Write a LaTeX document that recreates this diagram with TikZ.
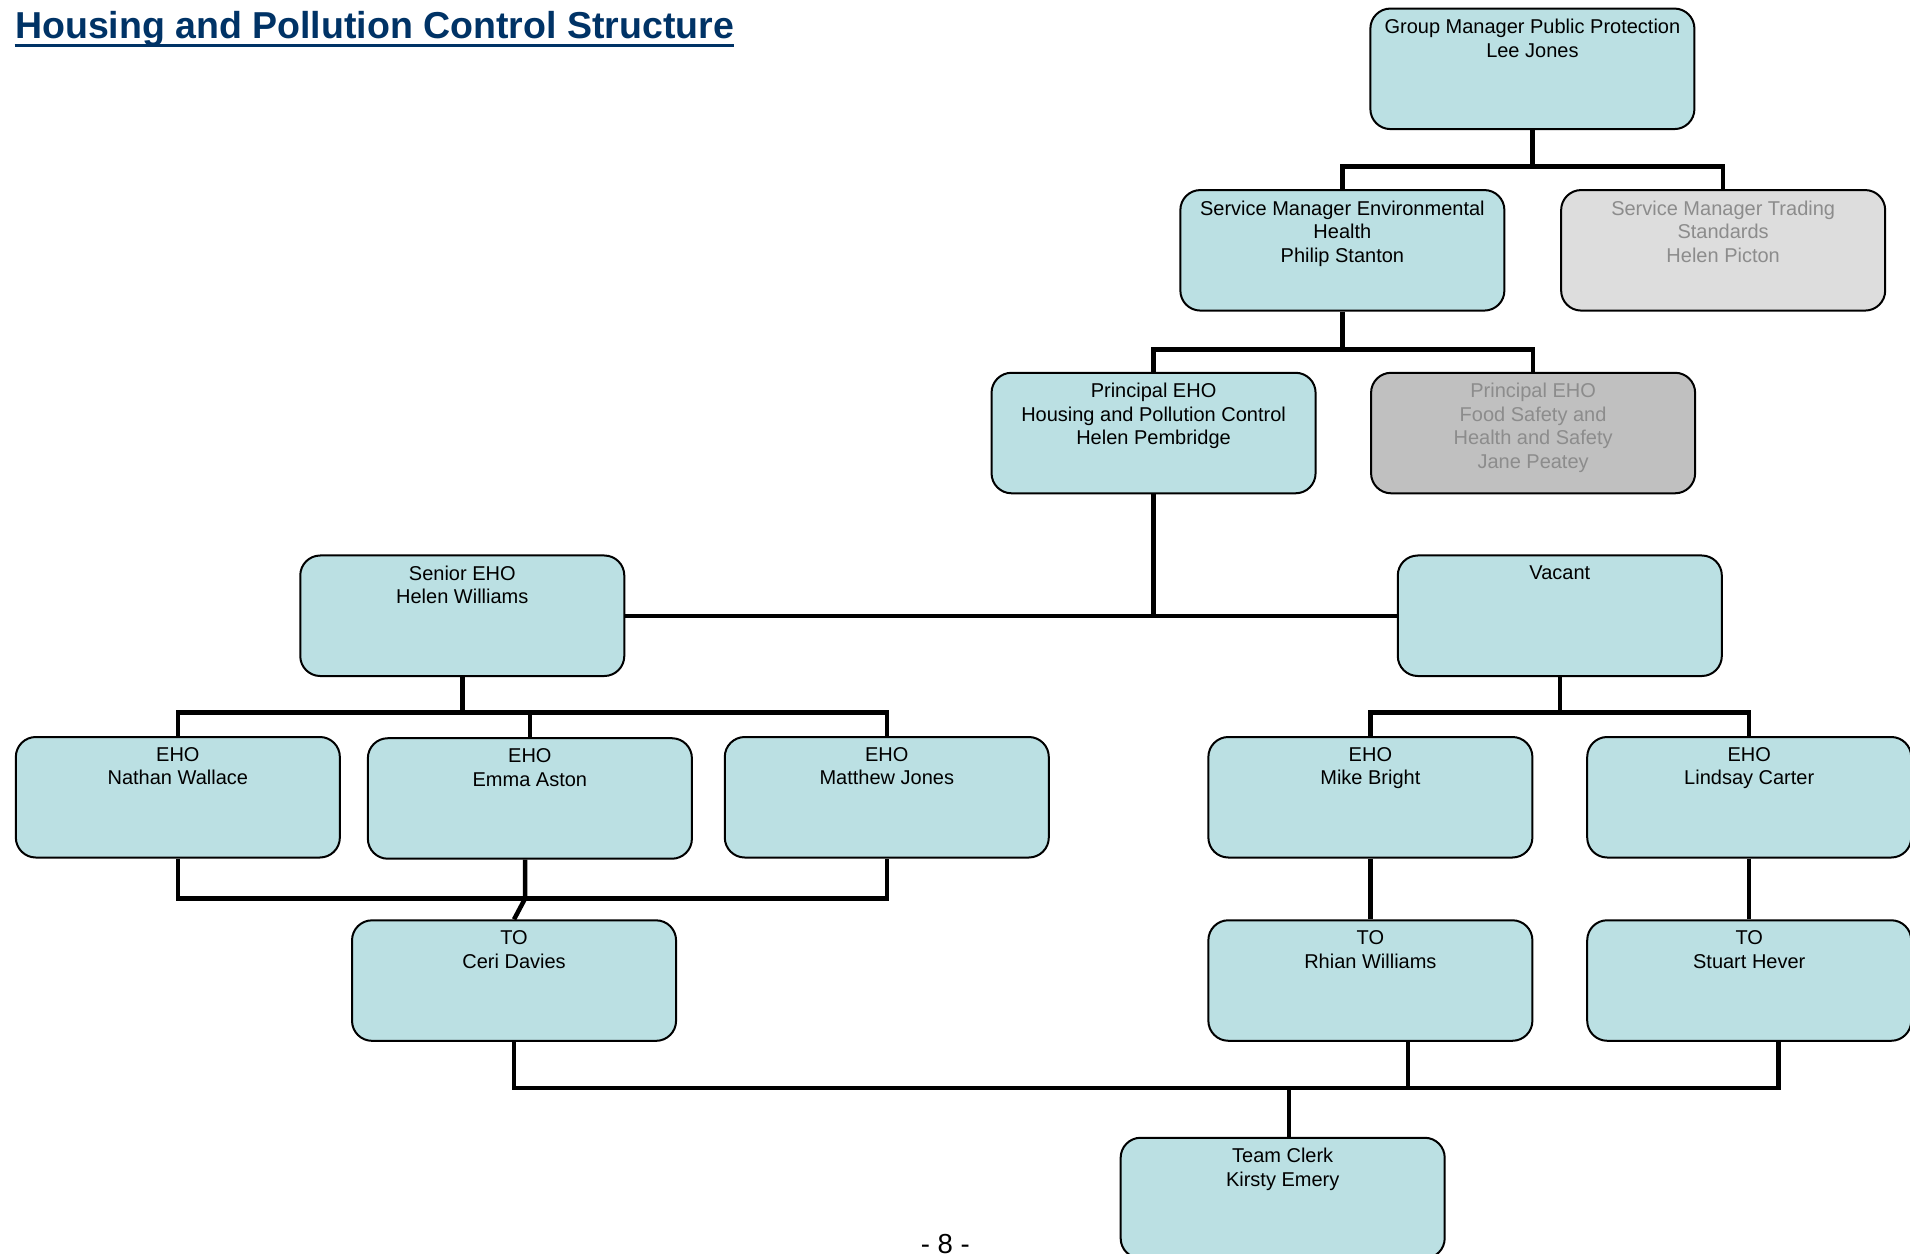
\documentclass[tikz,border=0pt]{standalone}
\usepackage{fontspec}
\setmainfont{Liberation Sans}
\usepackage{tikz}
\usetikzlibrary{calc,positioning}
\definecolor{postfill}{HTML}{BBE0E3}
\definecolor{greylight}{HTML}{DDDDDD}
\definecolor{greydark}{HTML}{C0C0C0}
\definecolor{greytext}{HTML}{8C8C8C}
\definecolor{titleblue}{HTML}{003366}
\tikzset{%
        line join = miter,
        node distance = 22pt
}
\tikzstyle{post}=[
    draw = black,
    fill = postfill,
    line width = 0.8pt,
    rounded corners = 8pt,
    minimum width = 129.6pt,
    minimum height = 48.2pt
]
\tikzstyle{postname}=[
    anchor = north,
    align = center,
    inner sep = 0pt,
    yshift = -4.4pt,
    font = \fontsize{8}{9.4}\selectfont
]
\tikzstyle{link}=[
    draw = black,
    line width = 1.8pt
]

\begin{document}
\begin{tikzpicture}[x=0.4872pt, y=-0.4872pt]
        \useasboundingbox[fill=white] (0,0) rectangle (1568,1029);
        \node[anchor=base west, inner sep=0pt, text=titleblue,
              font=\bfseries\fontsize{15}{18}\selectfont] (title) at (12,32)
              {Housing and Pollution Control Structure};
        \draw[titleblue, line width=1.3pt] ([yshift=-2.6pt]title.base west) -- ([yshift=-2.6pt]title.base east);

        \node[post, label={[postname]north:{Group Manager Public Protection\\Lee Jones}}] (gm) at (1258,56.5) {};
        \node[post, label={[postname]north:{Service Manager Environmental\\Health\\Philip Stanton}}] (smeh) at (1102,205.5) {};
        \node[post, fill=greylight, label={[postname, text=greytext]north:{Service Manager Trading\\Standards\\Helen Picton}}] (smts) [right=21.9pt of smeh] {};
        \node[post, label={[postname]north:{Principal EHO\\Housing and Pollution Control\\Helen Pembridge}}] (peho) at (947,355.5) {};
        \node[post, fill=greydark, label={[postname, text=greytext]north:{Principal EHO\\Food Safety and\\Health and Safety\\Jane Peatey}}] (pfs) [right=21.4pt of peho] {};
        \node[post, label={[postname]north:{Senior EHO\\Helen Williams}}] (senior) at (379.5,505.5) {};
        \node[post, label={[postname]north:{Vacant}}] (vacant) at (1280.5,505.5) {};
        \node[post, label={[postname]north:{EHO\\Nathan Wallace}}] (nw) at (146,654.5) {};
        \node[post, label={[postname]north:{EHO\\Emma Aston}}] (ea) at (435,655.5) {};
        \node[post, label={[postname]north:{EHO\\Matthew Jones}}] (mj) at (728,654.5) {};
        \node[post, label={[postname]north:{EHO\\Mike Bright}}] (mb) at (1125,654.5) {};
        \node[post, label={[postname]north:{EHO\\Lindsay Carter}}] (lc) at (1436,654.5) {};
        \node[post, label={[postname]north:{TO\\Ceri Davies}}] (tocd) at (422,805) {};
        \node[post, label={[postname]north:{TO\\Rhian Williams}}] (rw) [below=24.3pt of mb] {};
        \node[post, label={[postname]north:{TO\\Stuart Hever}}] (sh) [below=24.3pt of lc] {};
        \node[post, label={[postname]north:{Team Clerk\\Kirsty Emery}}] (tc) at (1053,983.5) {};
        \node[anchor=north, inner sep=0pt, font=\fontsize{11}{13}\selectfont] (page) at (776,1013) {- 8 -};

        % top levels
        \draw[link] (gm.south) -- ++(0,30) coordinate (j1);
        \draw[link] (smeh.north) |- (j1) -| (smts.north);
        \draw[link] (smeh.south) -- ++(0,31) coordinate (j2);
        \draw[link] (peho.north) |- (j2) -| (pfs.north);
        \draw[link] (peho.south) -- (peho.south |- senior.east);
        \draw[link] (senior.east) -- (vacant.west);

        % EHOs
        \draw[link] (senior.south) -- ++(0,29) coordinate (j3);
        \draw[link] (nw.north) |- (j3) -| (mj.north);
        \draw[link] (ea.north) -- (ea.north |- j3);
        \draw[link] (vacant.south) -- ++(0,29) coordinate (j4);
        \draw[link] (mb.north) |- (j4) -| (lc.north);

        % TOs
        \draw[link] (nw.south) -- ++(0,33) coordinate (j5) -| (mj.south);
        \coordinate (eab) at ($(ea.south)+(-4,0)$);
        \draw[link] (eab) -- (eab |- j5) -- (tocd.north);
        \draw[link] (mb.south) -- (rw.north);
        \draw[link] (lc.south) -- (sh.north);

        % team clerk
        \coordinate (j6) at ($(tocd.south)+(0,38)$);
        \coordinate (rwb) at ($(rw.south)+(31,0)$);
        \coordinate (shb) at ($(sh.south)+(24,0)$);
        \coordinate (tct) at ($(tc.north)+(5,0)$);
        \draw[link] (tocd.south) -- (j6) -| (shb);
        \draw[link] (rwb) -- (rwb |- j6);
        \draw[link] (tct) -- (tct |- j6);
\end{tikzpicture}
\end{document}
